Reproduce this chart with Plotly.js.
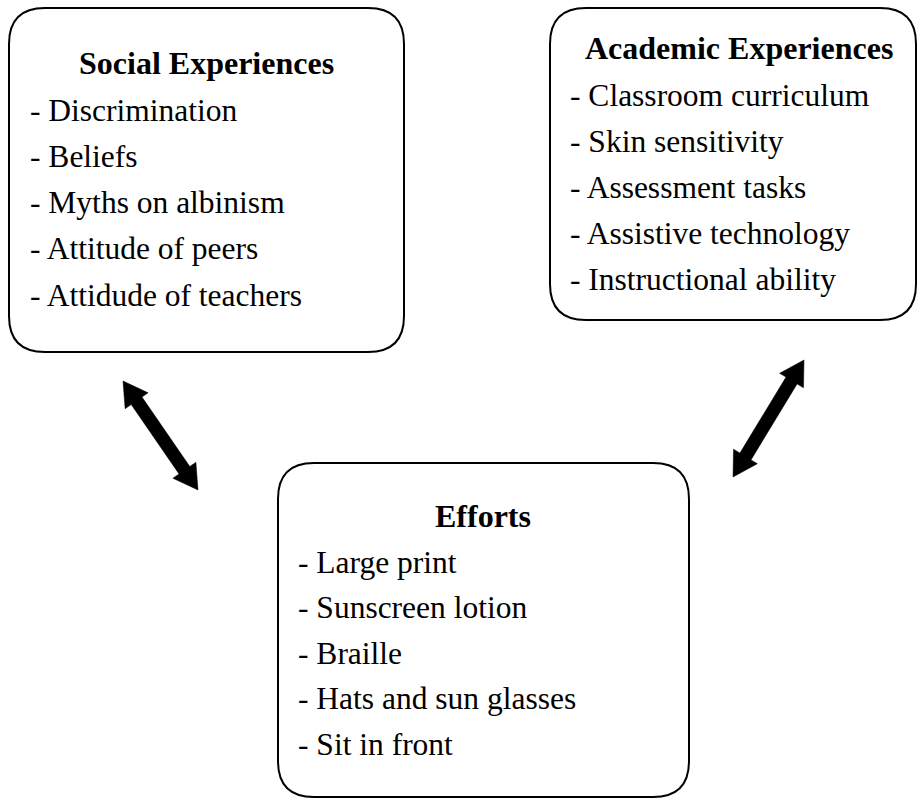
<!DOCTYPE html>
<html>
<head>
<meta charset="utf-8">
<script src="https://cdn.plot.ly/plotly-3.0.1.min.js"></script>
<style>html,body{margin:0;padding:0;background:#fff;}#chart{width:917px;height:801px;}</style>
</head>
<body>
<div id="chart"></div>
<script>
// ---- Diagram content ----
const socialTitle = "Social Experiences";
const socialItems = ["Discrimination", "Beliefs", "Myths on albinism", "Attitude of peers", "Attidude of teachers"];
const academicTitle = "Academic Experiences";
const academicItems = ["Classroom curriculum", "Skin sensitivity", "Assessment tasks", "Assistive technology", "Instructional ability"];
const effortsTitle = "Efforts";
const effortsItems = ["Large print", "Sunscreen lotion", "Braille", "Hats and sun glasses", "Sit in front"];

// ---- Layout geometry (pixel coords, y downward) ----
const boxes = [
  {x0: 9, y0: 8, x1: 404, y1: 352, title: socialTitle, items: socialItems, tx: 206, ty: 63, ix: 28, iy: 110, step: 46.3},
  {x0: 550, y0: 8, x1: 916, y1: 320, title: academicTitle, items: academicItems, tx: 739, ty: 48, ix: 568, iy: 95, step: 46.1},
  {x0: 278, y0: 463, x1: 689, y1: 797, title: effortsTitle, items: effortsItems, tx: 483, ty: 516, ix: 296, iy: 562, step: 45.6}
];
const arrows = [
  {ax: 123, ay: 381, bx: 198, by: 490},
  {ax: 804, ay: 360, bx: 733, by: 477}
];

function roundRect(b, r) {
  return `M ${b.x0 + r},${b.y0} L ${b.x1 - r},${b.y0} Q ${b.x1},${b.y0} ${b.x1},${b.y0 + r} ` +
         `L ${b.x1},${b.y1 - r} Q ${b.x1},${b.y1} ${b.x1 - r},${b.y1} ` +
         `L ${b.x0 + r},${b.y1} Q ${b.x0},${b.y1} ${b.x0},${b.y1 - r} ` +
         `L ${b.x0},${b.y0 + r} Q ${b.x0},${b.y0} ${b.x0 + r},${b.y0} Z`;
}

function dblArrow(a, shaftW, headW, headL) {
  const dx = a.bx - a.ax, dy = a.by - a.ay;
  const L = Math.hypot(dx, dy);
  const ux = dx / L, uy = dy / L;
  const nx = -uy, ny = ux;
  const P = (s, t) => [a.ax + ux * s + nx * t, a.ay + uy * s + ny * t];
  const pts = [
    P(0, 0),
    P(headL, headW / 2),
    P(headL, shaftW / 2),
    P(L - headL, shaftW / 2),
    P(L - headL, headW / 2),
    P(L, 0),
    P(L - headL, -headW / 2),
    P(L - headL, -shaftW / 2),
    P(headL, -shaftW / 2),
    P(headL, -headW / 2)
  ];
  return "M " + pts.map(p => p[0].toFixed(1) + "," + p[1].toFixed(1)).join(" L ") + " Z";
}

const shapes = [];
boxes.forEach(b => shapes.push({
  type: "path", xref: "x", yref: "y", path: roundRect(b, 36),
  line: {color: "#000", width: 2}, fillcolor: "rgba(0,0,0,0)"
}));
arrows.forEach(a => shapes.push({
  type: "path", xref: "x", yref: "y", path: dblArrow(a, 13, 28, 24),
  line: {color: "#000", width: 0.5}, fillcolor: "#000"
}));

const fontFamily = "Liberation Serif";
const annotations = [];
boxes.forEach(b => {
  annotations.push({
    x: b.tx, y: b.ty, xref: "x", yref: "y", text: "<b>" + b.title + "</b>",
    showarrow: false, xanchor: "center", yanchor: "middle",
    font: {family: fontFamily, size: 32, color: "#000"}
  });
  b.items.forEach((it, i) => annotations.push({
    x: b.ix, y: b.iy + i * b.step, xref: "x", yref: "y", text: "- " + it,
    showarrow: false, xanchor: "left", yanchor: "middle",
    font: {family: fontFamily, size: 31.5, color: "#000"}
  }));
});

const layout = {
  width: 917, height: 801,
  margin: {l: 0, r: 0, t: 0, b: 0, pad: 0},
  paper_bgcolor: "#fff", plot_bgcolor: "#fff",
  xaxis: {range: [0, 917], visible: false, fixedrange: true},
  yaxis: {range: [801, 0], visible: false, fixedrange: true},
  showlegend: false,
  shapes: shapes,
  annotations: annotations
};

Plotly.newPlot("chart", [], layout, {staticPlot: true, displayModeBar: false});
</script>
</body>
</html>
